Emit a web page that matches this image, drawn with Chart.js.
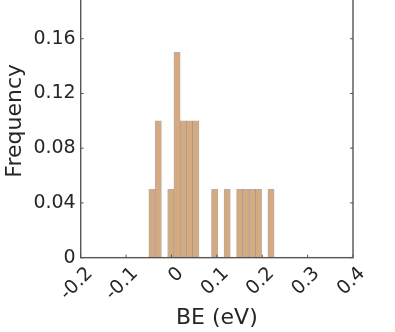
<!DOCTYPE html>
<html>
<head>
<meta charset="utf-8">
<script src="https://cdn.jsdelivr.net/npm/chart.js@4.4.0/dist/chart.umd.min.js"></script>
<style>
html, body { margin: 0; padding: 0; background: #fff; overflow: hidden; }
#wrap { position: absolute; left: 0; top: -16px; width: 395px; height: 348px; }
</style>
</head>
<body>
<div id="wrap"><canvas id="chart"></canvas></div>
<script>
// histogram bins (centres, eV) and their frequencies
const binCenters = [-0.0429, -0.0291, -0.0153, -0.0015, 0.0123, 0.0261, 0.0399, 0.0537, 0.0675, 0.0813,
                    0.0951, 0.1089, 0.1227, 0.1365, 0.1503, 0.1641, 0.1779, 0.1917, 0.2055, 0.2193];
const frequency = [0.05, 0.10, 0, 0.05, 0.15, 0.10, 0.10, 0.10, 0, 0,
                   0.05, 0, 0.05, 0, 0.05, 0.05, 0.05, 0.05, 0, 0.05];
const xTicks = [-0.2, -0.1, 0, 0.1, 0.2, 0.3, 0.4];
const yTicks = [0, 0.04, 0.08, 0.12, 0.16, 0.2];

const textColor = '#262626';
const axisColor = '#555555';
const fontFamily = '"DejaVu Sans", sans-serif';

function fmt(v, d) {
    return Number(v.toFixed(d)).toString();
}

// matlab style box with inward ticks
const boxTicks = {
    id: 'boxTicks',
    afterDraw(chart) {
        const { ctx, chartArea: a, scales: { x, y } } = chart;
        ctx.save();
        ctx.strokeStyle = axisColor;
        ctx.lineWidth = 1;
        ctx.beginPath();
        x.ticks.forEach(t => {
            const px = x.getPixelForValue(t.value);
            ctx.moveTo(px, a.bottom); ctx.lineTo(px, a.bottom - 3);
            ctx.moveTo(px, a.top); ctx.lineTo(px, a.top + 3);
        });
        y.ticks.forEach(t => {
            const py = y.getPixelForValue(t.value);
            ctx.moveTo(a.left, py); ctx.lineTo(a.left + 3, py);
            ctx.moveTo(a.right, py); ctx.lineTo(a.right - 3, py);
        });
        ctx.stroke();
        ctx.lineWidth = 1.4;
        ctx.strokeRect(a.left, a.top, a.right - a.left, a.bottom - a.top);
        ctx.restore();
    }
};

const ctx = document.getElementById('chart').getContext('2d');
new Chart(ctx, {
    type: 'bar',
    data: {
        datasets: [{
            data: binCenters.map((c, i) => ({ x: c, y: frequency[i] })),
            backgroundColor: '#D5AA81',
            borderColor: 'rgba(85, 70, 60, 0.45)',
            borderWidth: 0.8,
            borderSkipped: false,
            categoryPercentage: 1,
            barPercentage: 1
        }]
    },
    options: {
        responsive: true,
        maintainAspectRatio: false,
        animation: false,
        layout: { padding: { left: 0, right: 42, top: 0, bottom: 0 } },
        plugins: { legend: { display: false }, tooltip: { enabled: false } },
        scales: {
            x: {
                type: 'linear',
                min: -0.2,
                max: 0.4,
                offset: false,
                afterBuildTicks: s => { s.ticks = xTicks.map(v => ({ value: v })); },
                grid: { display: false, drawTicks: false },
                border: { display: false },
                ticks: {
                    autoSkip: false,
                    minRotation: 45,
                    maxRotation: 45,
                    padding: 5,
                    labelOffset: 9,
                    color: textColor,
                    font: { family: fontFamily, size: 19 },
                    callback: v => fmt(v, 1)
                },
                title: {
                    display: true,
                    text: 'BE (eV)',
                    color: textColor,
                    font: { family: fontFamily, size: 22, lineHeight: 1.0 },
                    padding: { top: -3, bottom: 3 }
                }
            },
            y: {
                min: 0,
                max: 0.2,
                afterBuildTicks: s => { s.ticks = yTicks.map(v => ({ value: v })); },
                afterFit: s => { s.paddingTop = 0; },
                grid: { display: false, drawTicks: false },
                border: { display: false },
                ticks: {
                    padding: 5,
                    color: textColor,
                    font: { family: fontFamily, size: 19 },
                    callback: v => fmt(v, 2)
                },
                title: {
                    display: true,
                    text: 'Frequency',
                    color: textColor,
                    font: { family: fontFamily, size: 22 },
                    padding: { top: 2, bottom: 0 }
                }
            }
        }
    },
    plugins: [boxTicks]
});
</script>
</body>
</html>
